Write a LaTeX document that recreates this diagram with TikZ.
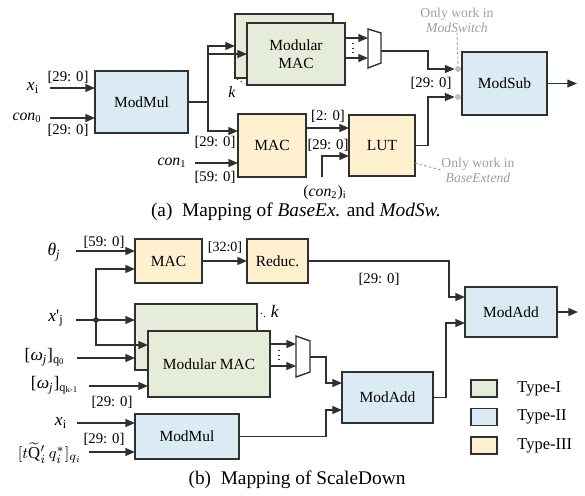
\documentclass[tikz,border=0pt]{standalone}
\usepackage{fontspec}
\setmainfont{Liberation Serif}
\usetikzlibrary{arrows.meta}
\definecolor{typeone}{HTML}{E6ECDA}
\definecolor{typetwo}{HTML}{DAEBF3}
\definecolor{typethree}{HTML}{FFF1CF}
\definecolor{edge}{HTML}{303030}
\definecolor{notegrey}{HTML}{A0A0A0}
\begin{document}
\begin{tikzpicture}[x=0.02cm,y=-0.02cm,
    block/.style={draw=edge,line width=0.8pt,inner sep=0pt,outer sep=0pt,align=center,font=\fontsize{8.8}{10.5}\selectfont},
    typeI/.style={block,fill=typeone},
    typeII/.style={block,fill=typetwo},
    typeIII/.style={block,fill=typethree},
    wire/.style={draw=edge,line width=0.8pt},
    arr/.style={wire,-{Triangle[length=5.5pt,width=4.5pt]}},
    bits/.style={inner sep=0pt,font=\fontsize{8.4}{9}\selectfont},
    sig/.style={inner sep=0pt,font=\fontsize{10}{11}\selectfont},
    note/.style={inner sep=0pt,align=center,text=notegrey,font=\fontsize{7.8}{8.6}\selectfont},
    note line/.style={notegrey,line width=0.5pt,dash pattern=on 1.5pt off 1.2pt},
    pin/.style={circle,fill=gray!50,inner sep=0pt,minimum size=0.12cm},
    caption/.style={inner sep=0pt,font=\fontsize{11}{12}\selectfont}]
  \useasboundingbox (0,0) rectangle (585,495);

  %%% (a) BaseExtend / ModSwitch
  \node[typeI,minimum width=1.96cm,minimum height=1.28cm] (mmacAb) at (284,46) {};%copy behind
  \node[typeI,minimum width=1.96cm,minimum height=1.24cm] (mmacAf) at (296,54) {Modular\\MAC};
  \node[typeII,minimum width=1.86cm,minimum height=1.24cm] (mmA) at (141.5,102) {ModMul};
  \node[typeIII,minimum width=1.36cm,minimum height=1.26cm] (macA) at (272,145.5) {MAC};
  \node[typeIII,minimum width=1.32cm,minimum height=1.22cm] (lutA) at (382,145.5) {LUT};
  \node[typeII,minimum width=1.70cm,minimum height=1.26cm] (subA) at (504.5,83.5) {ModSub};
  \draw[wire,fill=white] (368,29) -- (381,33) -- (381,63) -- (368,68) -- cycle;%mux
  \coordinate (muxA-o) at (381,51);
  \node[pin] (dotA1) at (458,69) {};
  \node[pin] (dotA2) at (458,97) {};
  \draw[edge,dotted,line width=0.6pt] (237,79) -- (245,84);%more copies
  \node[sig,font=\fontsize{9}{10}\selectfont] (kA) at (232,92) {\textit{k}};

  % inputs of ModMul
  \node[sig] (xiA) at (33,88) {\textit{x}\textsubscript{i}};
  \node[sig,font=\fontsize{9}{10}\selectfont] (con0A) at (27,118) {\textit{con}\textsubscript{0}};
  \coordinate (xiA-in) at (50,88);
  \coordinate (con0A-in) at (50,118);
  \draw[arr] (xiA-in) -- (xiA-in -| mmA.west);
  \draw[arr] (con0A-in) -- (con0A-in -| mmA.west);
  \node[bits] (bA1) at (68,77) {[29: 0]};
  \node[bits] (bA2) at (68,130) {[29: 0]};

  % ModMul fans out
  \coordinate (splitA) at (208,102);
  \draw[wire] (mmA.east) -- (splitA);
  \draw[arr] (splitA) |- (mmacAb.west);
  \draw[arr] (splitA) |- (mmacAf.west);
  \draw[arr] (splitA) |- (macA.west |- 0,131);
  \node[bits] (bA3) at (215,142) {[29: 0]};

  % MAC and LUT
  \node[sig,font=\fontsize{9}{10}\selectfont] (con1A) at (172,163) {\textit{con}\textsubscript{1}};
  \coordinate (con1A-in) at (195,163);
  \draw[arr] (con1A-in) -- (con1A-in -| macA.west);
  \node[bits] (bA4) at (215,177) {[59: 0]};
  \draw[arr] (macA.east |- 0,128) -- (lutA.west |- 0,128);
  \node[bits] (bA5) at (328,116) {[2: 0]};
  \node[bits] (bA6) at (328,145) {[29: 0]};
  \coordinate (con2A-in) at (322,177);
  \draw[arr] (con2A-in) |- (lutA.west |- 0,156);
  \node[sig,font=\fontsize{9}{10}\selectfont] (con2A) at (325,193) {(\textit{con}\textsubscript{2})\textsubscript{i}};

  % towards ModSub
  \draw[arr] (mmacAf.east |- 0,38) -- (368,38);
  \draw[arr] (mmacAf.east |- 0,58) -- (368,58);
  \draw[edge,dotted,line width=0.6pt] (353,43) -- (353,54);
  \draw[arr] (muxA-o) -- (muxA-o -| 428,0) |- (dotA1.west);
  \draw[arr] (lutA.east) -- (lutA.east -| 428,0) |- (dotA2.west);
  \node[bits] (bA7) at (431,83) {[29: 0]};
  \coordinate (subA-out) at (577,83.5);
  \draw[arr] (subA.east) -- (subA-out);

  % notes
  \node[note] (noteA1) at (457,20) {Only work in\\\textit{ModSwitch}};
  \draw[note line] (noteA1.south) -- (dotA1.north);
  \node[note] (noteA2) at (478,170) {Only work in\\\textit{BaseExtend}};
  \draw[note line] (lutA.east |- 0,163) -- (noteA2.west);

  \node[caption] (capA) at (296,212) {(a)\enspace Mapping of \textit{BaseEx.} and \textit{ModSw.}};

  %%% (b) ScaleDown
  \node[typeIII,minimum width=1.34cm,minimum height=0.88cm] (macB) at (168.5,261) {MAC};
  \node[typeIII,minimum width=1.22cm,minimum height=0.88cm] (redB) at (277.5,261) {Reduc.};
  \node[typeI,minimum width=2.44cm,minimum height=1.32cm] (mmacBb) at (196,337) {};%copy behind
  \node[typeI,minimum width=2.44cm,minimum height=1.32cm] (mmacBf) at (209,364) {Modular MAC};
  \node[typeII,minimum width=2.08cm,minimum height=0.90cm] (mmB) at (187,436.5) {ModMul};
  \node[typeII,minimum width=1.82cm,minimum height=1.02cm] (addB1) at (387.5,397.5) {ModAdd};
  \node[typeII,minimum width=1.84cm,minimum height=1.00cm] (addB2) at (511,312) {ModAdd};
  \draw[wire,fill=white] (296,336) -- (310,341) -- (310,372) -- (296,377) -- cycle;%mux
  \coordinate (muxB-o) at (310,357);
  \draw[edge,dotted,line width=0.6pt] (261,313) -- (266,318);%more copies
  \node[sig] (kB) at (275,311) {\textit{k}};

  % MAC / Reduc.
  \node[sig] (thB) at (54,252) {\textit{θ}\textsubscript{\textit{j}}};
  \coordinate (thB-in) at (76,251);
  \draw[arr] (thB-in) -- (thB-in -| macB.west);
  \node[bits] (bB1) at (104,242) {[59: 0]};
  \draw[arr] (macB.east) -- (redB.west);
  \node[bits,font=\fontsize{8}{9}\selectfont] (bB2) at (225,248) {[32:0]};
  \draw[arr] (redB.east) -- (redB.east -| 449,0) |- (addB2.west |- 0,297);
  \node[bits] (bB3) at (379,279) {[29: 0]};

  % x'_j feeds MAC and Modular MAC
  \node[sig] (xjB) at (56,318) {\textit{x}\textquotesingle\textsubscript{j}};
  \coordinate (xjB-in) at (76,320);
  \coordinate (junB) at (96,320);
  \draw[arr] (xjB-in) -- (xjB-in -| mmacBb.west);
  \fill[edge] (junB) circle (1.6pt);
  \draw[arr] (junB) |- (macB.west |- 0,269);
  \draw[arr] (junB) |- (mmacBf.west |- 0,345);
  \node[sig] (w0B) at (45,357) {[\textit{ω\textsubscript{j}}]\textsubscript{q\textsubscript{0}}};
  \coordinate (w0B-in) at (77,358);
  \draw[arr] (w0B-in) -- (w0B-in -| mmacBb.west);
  \node[sig] (wkB) at (55,385) {[\textit{ω\textsubscript{j}}]\textsubscript{q\textsubscript{k-1}}};
  \coordinate (wkB-in) at (89,386);
  \draw[arr] (wkB-in) -- (wkB-in -| mmacBf.west);
  \node[bits] (bB4) at (112,402) {[29: 0]};
  \draw[arr] (mmacBf.east |- 0,344) -- (296,344);
  \draw[arr] (mmacBf.east |- 0,366) -- (296,366);
  \draw[edge,dotted,line width=0.6pt] (279,350) -- (279,361);

  % ModMul branch
  \node[sig] (xiB) at (61,423) {\textit{x}\textsubscript{i}};
  \coordinate (xiB-in) at (77,423);
  \draw[arr] (xiB-in) -- (xiB-in -| mmB.west);
  \node[bits] (bB5) at (104,439) {[29: 0]};
  \node[sig,font=\fontsize{9.5}{10}\selectfont] (qB) at (50,453) {$[t\widetilde{\mathrm{Q}}{}'_i\,q_i^{*}]_{q_i}$};
  \coordinate (qB-in) at (89,452);
  \draw[arr] (qB-in) -- (qB-in -| mmB.west);

  % adders
  \draw[arr] (muxB-o) -- (muxB-o -| 326,0) |- (addB1.west |- 0,383);
  \draw[arr] (mmB.east) -- (mmB.east -| 326,0) |- (addB1.west |- 0,410);
  \draw[arr] (addB1.east) -- (addB1.east -| 446,0) |- (addB2.west |- 0,323);
  \coordinate (addB2-out) at (578,312);
  \draw[arr] (addB2.east) -- (addB2-out);

  % legend
  \node[typeI,minimum width=0.52cm,minimum height=0.34cm] (legI) at (484,388.5) {};
  \node[typeII,minimum width=0.52cm,minimum height=0.34cm] (legII) at (484,417) {};
  \node[typeIII,minimum width=0.52cm,minimum height=0.34cm] (legIII) at (484,445.5) {};
  \node[sig,font=\fontsize{9.4}{10}\selectfont,anchor=west] (tI) at (517,388.5) {Type-I};
  \node[sig,font=\fontsize{9.4}{10}\selectfont,anchor=west] (tII) at (517,417) {Type-II};
  \node[sig,font=\fontsize{9.4}{10}\selectfont,anchor=west] (tIII) at (517,445.5) {Type-III};

  \node[caption] (capB) at (297,480) {(b)\enspace Mapping of ScaleDown};
\end{tikzpicture}
\end{document}
